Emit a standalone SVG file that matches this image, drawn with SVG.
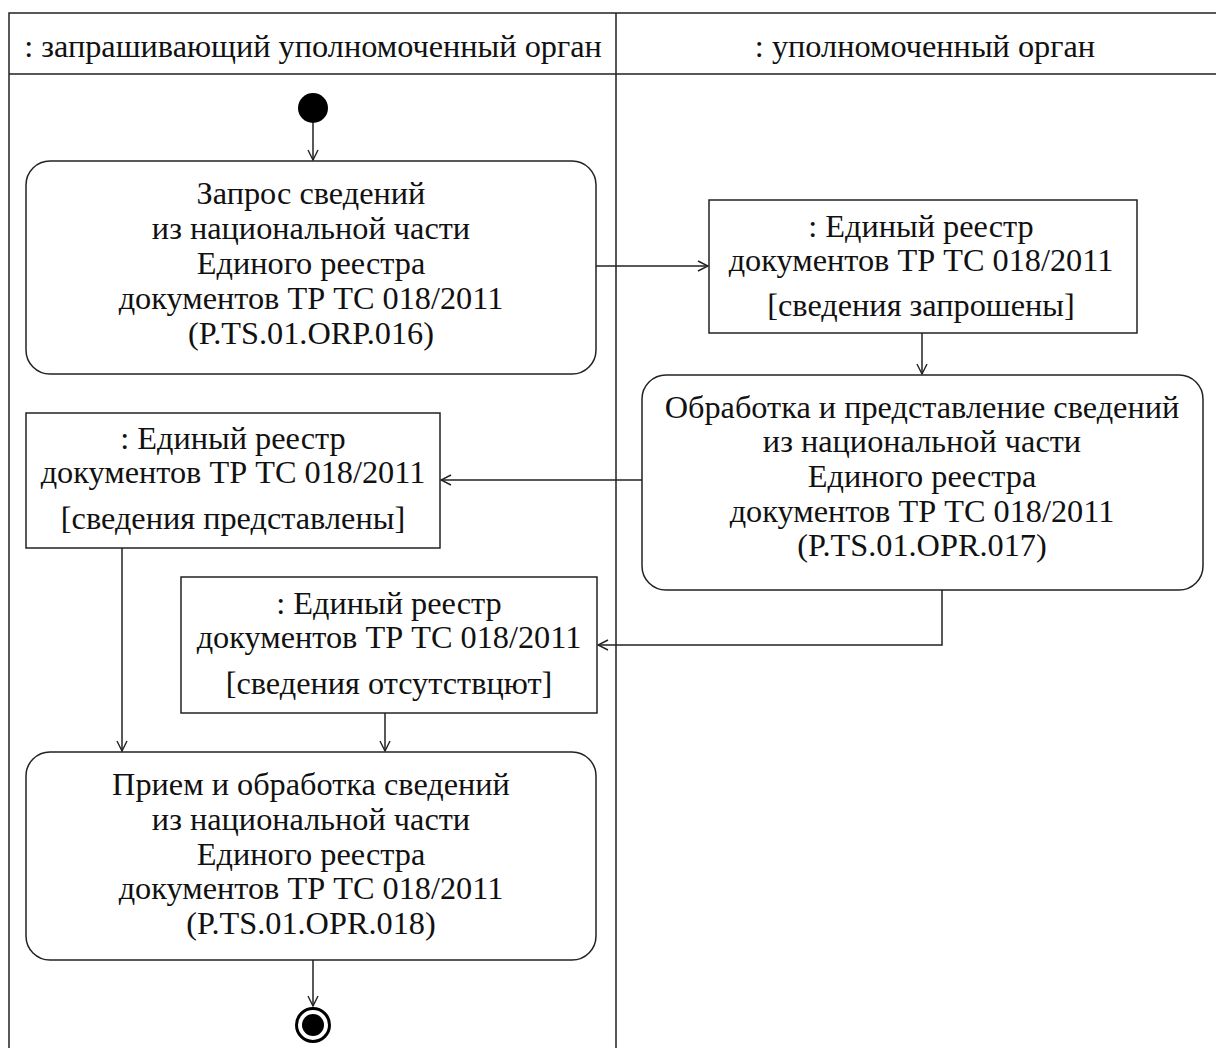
<svg xmlns="http://www.w3.org/2000/svg" width="1216" height="1048" viewBox="0 0 1216 1048">
<style>
text{font-family:"Liberation Serif","Times New Roman",serif;font-size:32.3px;fill:#111;text-anchor:middle}
.ln{fill:none;stroke:#222;stroke-width:1.5}
.box{fill:#fff;stroke:#222;stroke-width:1.5}
</style>
<defs>
<marker id="arr" viewBox="0 0 12 12" refX="11" refY="6" markerWidth="12" markerHeight="12" markerUnits="userSpaceOnUse" orient="auto">
<path d="M1,1 L11,6 L1,11" fill="none" stroke="#222" stroke-width="1.4"/>
</marker>
</defs>
<rect width="1216" height="1048" fill="#fff"/>
<g id="swimlanes">
<path class="ln" d="M9,1048 V13 H1216 M9,74 H1216 M616,13 V1048"/>
<text x="313" y="57">: запрашивающий уполномоченный орган</text>
<text x="925" y="57">: уполномоченный орган</text>
</g>
<g id="connectors">
<path class="ln" d="M313,123 V160" marker-end="url(#arr)"/>
<path class="ln" d="M596,266 H708" marker-end="url(#arr)"/>
<path class="ln" d="M922,333 V374" marker-end="url(#arr)"/>
<path class="ln" d="M642,480 H441" marker-end="url(#arr)"/>
<path class="ln" d="M942,590 V645 H598" marker-end="url(#arr)"/>
<path class="ln" d="M122,548 V751" marker-end="url(#arr)"/>
<path class="ln" d="M385,713 V751" marker-end="url(#arr)"/>
<path class="ln" d="M313,960 V1006" marker-end="url(#arr)"/>
</g>
<g id="initial">
<circle cx="313" cy="108" r="15" fill="#000"/>
</g>
<g id="act1">
<rect class="box" x="26" y="161" width="570" height="213" rx="24"/>
<text x="311" y="204">Запрос сведений</text>
<text x="311" y="239">из национальной части</text>
<text x="311" y="274">Единого реестра</text>
<text x="311" y="309">документов ТР ТС 018/2011</text>
<text x="311" y="344">(P.TS.01.ORP.016)</text>
</g>
<g id="obj1">
<rect class="box" x="709" y="200" width="428" height="133"/>
<text x="921" y="237">: Единый реестр</text>
<text x="921" y="271">документов ТР ТС 018/2011</text>
<text x="921" y="316">[сведения запрошены]</text>
</g>
<g id="act2">
<rect class="box" x="642" y="375" width="561" height="215" rx="24"/>
<text x="922" y="418">Обработка и представление сведений</text>
<text x="922" y="452">из национальной части</text>
<text x="922" y="487">Единого реестра</text>
<text x="922" y="522">документов ТР ТС 018/2011</text>
<text x="922" y="556">(P.TS.01.OPR.017)</text>
</g>
<g id="obj2">
<rect class="box" x="26" y="413" width="414" height="135"/>
<text x="233" y="449">: Единый реестр</text>
<text x="233" y="483">документов ТР ТС 018/2011</text>
<text x="233" y="529">[сведения представлены]</text>
</g>
<g id="obj3">
<rect class="box" x="181" y="577" width="416" height="136"/>
<text x="389" y="614">: Единый реестр</text>
<text x="389" y="648">документов ТР ТС 018/2011</text>
<text x="389" y="694">[сведения отсутствцют]</text>
</g>
<g id="act3">
<rect class="box" x="26" y="752" width="570" height="208" rx="24"/>
<text x="311" y="795">Прием и обработка сведений</text>
<text x="311" y="830">из национальной части</text>
<text x="311" y="865">Единого реестра</text>
<text x="311" y="899">документов ТР ТС 018/2011</text>
<text x="311" y="934">(P.TS.01.OPR.018)</text>
</g>
<g id="final">
<circle cx="313" cy="1025" r="16.5" fill="#fff" stroke="#000" stroke-width="3"/>
<circle cx="313" cy="1025" r="11" fill="#000"/>
</g>
</svg>
